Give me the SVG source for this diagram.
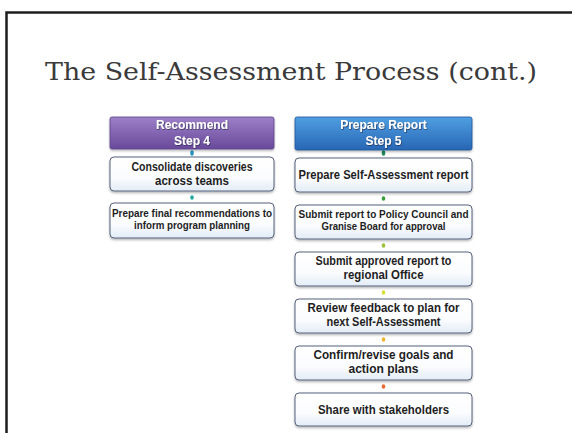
<svg xmlns="http://www.w3.org/2000/svg" width="572" height="433" viewBox="0 0 572 433">
<style>
.title{font-family:"DejaVu Serif","Liberation Serif",serif;font-size:25px;fill:#3a3a3a}
.hd{font-family:"Liberation Sans","DejaVu Sans",sans-serif;font-weight:bold;font-size:12px;fill:#ffffff;text-anchor:middle}
.tx{font-family:"Liberation Sans","DejaVu Sans",sans-serif;font-weight:bold;fill:#1e1e1e;text-anchor:middle}
.box{fill:url(#bg);stroke:#56627c;stroke-width:1}
.dot{stroke-width:3.5;stroke-linecap:round}
</style>
<defs>
<linearGradient id="pg" x1="0" y1="0" x2="0" y2="1">
<stop offset="0" stop-color="#9d80c8"/><stop offset="1" stop-color="#68499a"/>
</linearGradient>
<linearGradient id="blg" x1="0" y1="0" x2="0" y2="1">
<stop offset="0" stop-color="#4f9fe2"/><stop offset="1" stop-color="#2766b4"/>
</linearGradient>
<linearGradient id="bg" x1="0" y1="0" x2="0" y2="1">
<stop offset="0" stop-color="#ffffff"/><stop offset="0.6" stop-color="#fbfcfe"/><stop offset="1" stop-color="#e3ecf6"/>
</linearGradient>
<filter id="sh" x="-10%" y="-20%" width="120%" height="150%">
<feDropShadow dx="0" dy="1.5" stdDeviation="1" flood-color="#000" flood-opacity="0.3"/>
</filter>
<filter id="ts" x="-10%" y="-30%" width="120%" height="160%">
<feDropShadow dx="0.6" dy="0.8" stdDeviation="0.4" flood-color="#202040" flood-opacity="0.8"/>
</filter>
</defs>
<rect x="0" y="0" width="572" height="433" fill="#ffffff"/>
<path d="M6.5,433 V12.5 H572" fill="none" stroke="#1e1e1e" stroke-width="2.5"/>
<text class="title" x="45" y="80" textLength="492" lengthAdjust="spacingAndGlyphs">The Self-Assessment Process (cont.)</text>

<g id="connectors">
<line class="dot" x1="192" y1="152" x2="192" y2="154" stroke="#2a94c0"/>
<line class="dot" x1="192" y1="197" x2="192" y2="198" stroke="#22a8a0"/>
<line class="dot" x1="383.5" y1="152" x2="383.5" y2="154" stroke="#1f8a5a"/>
<line class="dot" x1="383.5" y1="198" x2="383.5" y2="199" stroke="#3a9e3a"/>
<line class="dot" x1="383.5" y1="245" x2="383.5" y2="246" stroke="#9cc23a"/>
<line class="dot" x1="383.5" y1="292" x2="383.5" y2="293" stroke="#d6e03a"/>
<line class="dot" x1="383.5" y1="339" x2="383.5" y2="340" stroke="#f2b42e"/>
<line class="dot" x1="383.5" y1="386" x2="383.5" y2="387" stroke="#ea6a32"/>
</g>

<g id="step4">
<rect x="110" y="117" width="164" height="32" rx="2" fill="url(#pg)" stroke="#5a4288" stroke-width="0.8" filter="url(#sh)"/>
<g filter="url(#ts)">
<text class="hd" x="192" y="129">Recommend</text>
<text class="hd" x="192" y="145">Step 4</text>
</g>
</g>
<g id="consolidate">
<rect class="box" x="110" y="157" width="164" height="34" rx="4" filter="url(#sh)"/>
<text class="tx" x="192" y="171" font-size="12" textLength="121" lengthAdjust="spacingAndGlyphs">Consolidate discoveries</text>
<text class="tx" x="192" y="185" font-size="12" textLength="74" lengthAdjust="spacingAndGlyphs">across teams</text>
</g>
<g id="final-rec">
<rect class="box" x="110" y="203" width="164" height="35" rx="4" filter="url(#sh)"/>
<text class="tx" x="192" y="217" font-size="10" textLength="160" lengthAdjust="spacingAndGlyphs">Prepare final recommendations to</text>
<text class="tx" x="192" y="229" font-size="10" textLength="116" lengthAdjust="spacingAndGlyphs">inform program planning</text>
</g>

<g id="step5">
<rect x="295" y="117" width="177" height="33" rx="2" fill="url(#blg)" stroke="#1f5698" stroke-width="0.8" filter="url(#sh)"/>
<g filter="url(#ts)">
<text class="hd" x="383.5" y="129">Prepare Report</text>
<text class="hd" x="383.5" y="145">Step 5</text>
</g>
</g>
<g id="prepare-report">
<rect class="box" x="295" y="158" width="177" height="34" rx="4" filter="url(#sh)"/>
<text class="tx" x="383.5" y="179" font-size="12" textLength="170" lengthAdjust="spacingAndGlyphs">Prepare Self-Assessment report</text>
</g>
<g id="submit-policy">
<rect class="box" x="295" y="205" width="177" height="34" rx="4" filter="url(#sh)"/>
<text class="tx" x="383.5" y="218" font-size="10" textLength="170" lengthAdjust="spacingAndGlyphs">Submit report to Policy Council and</text>
<text class="tx" x="383.5" y="230" font-size="10" textLength="124" lengthAdjust="spacingAndGlyphs">Granise Board for approval</text>
</g>
<g id="submit-regional">
<rect class="box" x="295" y="252" width="177" height="34" rx="4" filter="url(#sh)"/>
<text class="tx" x="383.5" y="265" font-size="12" textLength="136" lengthAdjust="spacingAndGlyphs">Submit approved report to</text>
<text class="tx" x="383.5" y="279" font-size="12" textLength="80" lengthAdjust="spacingAndGlyphs">regional Office</text>
</g>
<g id="review">
<rect class="box" x="295" y="299" width="177" height="34" rx="4" filter="url(#sh)"/>
<text class="tx" x="383.5" y="312" font-size="12" textLength="152" lengthAdjust="spacingAndGlyphs">Review feedback to plan for</text>
<text class="tx" x="383.5" y="326" font-size="12" textLength="114" lengthAdjust="spacingAndGlyphs">next Self-Assessment</text>
</g>
<g id="confirm">
<rect class="box" x="295" y="346" width="177" height="34" rx="4" filter="url(#sh)"/>
<text class="tx" x="383.5" y="359" font-size="12" textLength="140" lengthAdjust="spacingAndGlyphs">Confirm/revise goals and</text>
<text class="tx" x="383.5" y="373" font-size="12" textLength="70" lengthAdjust="spacingAndGlyphs">action plans</text>
</g>
<g id="share">
<rect class="box" x="295" y="393" width="177" height="33" rx="4" filter="url(#sh)"/>
<text class="tx" x="383.5" y="414" font-size="12" textLength="131" lengthAdjust="spacingAndGlyphs">Share with stakeholders</text>
</g>
</svg>
